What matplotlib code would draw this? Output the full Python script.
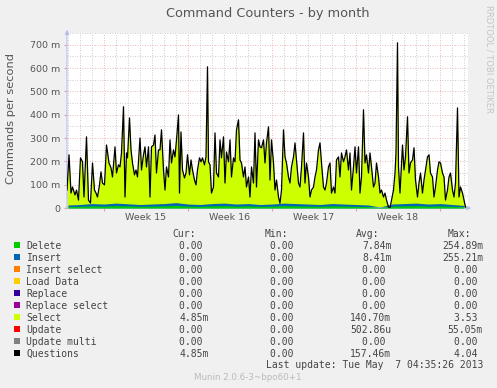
import matplotlib
matplotlib.use("Agg")
import matplotlib.pyplot as plt
from matplotlib.patches import Rectangle

W, H = 497, 388

# hours since Mon 8 Apr 2013 00:00 (start of week 15); values in milli-commands/s
q_hours = [-74, -70, -66, -63, -58, -55, -51, -47, -43, -40, -35, -31, -27, -23, -19, -16,
           -13, -9, -6, -3, 1, 5, 10, 14, 17, 22, 25, 29, 32, 35, 39, 42, 45, 47, 51, 54,
           57, 61, 64, 67, 72, 75, 79, 82, 85, 89, 92, 95, 99, 102, 105, 109, 112, 115,
           119, 122, 125, 129, 132, 135, 139, 142, 145, 149, 151, 154, 157, 161, 164, 167,
           171, 174, 177, 181, 184, 187, 191, 194, 197, 201, 204, 207, 209, 212, 215, 219,
           222, 225, 229, 232, 235, 239, 242, 245, 249, 252, 255, 259, 262, 265, 269, 272,
           275, 279, 282, 285, 289, 292, 295, 299, 302, 305, 309, 312, 315, 319, 322, 325,
           329, 332, 335, 339, 342, 345, 349, 352, 355, 359, 362, 365, 369, 372, 375, 379,
           382, 385, 389, 392, 395, 399, 402, 405, 409, 412, 415, 419, 422, 425, 429, 432,
           435, 439, 442, 445, 449, 452, 455, 459, 462, 465, 469, 472, 475, 479, 482, 485,
           489, 492, 495, 499, 502, 505, 509, 512, 515, 519, 522, 525, 529, 532, 535, 539,
           542, 545, 549, 552, 555, 559, 562, 565, 569, 572, 575, 579, 582, 584, 587, 589,
           592, 595, 597, 600, 603, 607, 610, 613, 617, 620, 623, 627, 630, 633, 637, 640,
           643, 647, 650, 653, 657, 660, 663, 667, 670, 673, 677, 680, 683, 687, 690, 693,
           697, 700, 703, 707, 710, 713, 717, 720, 723]
q_vals = [77, 228, 64, 90, 56, 77, 34, 215, 198, 47, 305, 34, 21, 193, 77, 64,
          47, 99, 155, 107, 99, 270, 193, 172, 133, 262, 150, 185, 176, 236, 434, 47, 236, 215, 386, 249,
          193, 142, 163, 133, 300, 163, 228, 262, 176, 262, 47, 262, 270, 313, 150, 249, 249, 335,
          163, 77, 176, 133, 292, 193, 249, 219, 292, 399, 64, 326, 163, 129, 150, 228,
          142, 206, 163, 120, 99, 163, 215, 198, 215, 185, 219, 605, 198, 185, 64, 90,
          322, 150, 133, 292, 215, 305, 107, 240, 198, 292, 133, 215, 198, 335, 378, 206,
          193, 133, 176, 90, 133, 47, 176, 107, 322, 90, 292, 262, 258, 292, 193, 279,
          348, 120, 292, 193, 77, 120, 47, 20, 77, 335, 219, 193, 133, 107, 176, 219,
          279, 206, 107, 90, 176, 322, 107, 193, 133, 47, 77, 90, 133, 163, 249, 279,
          193, 90, 77, 107, 176, 193, 64, 90, 64, 206, 219, 133, 236, 198, 219, 249,
          163, 236, 77, 176, 262, 150, 262, 64, 133, 421, 193, 228, 150, 236, 176, 90,
          107, 193, 133, 64, 77, 47, 64, 34, 4, 0, 34, 77, 150, 236, 708, 176,
          64, 193, 270, 163, 219, 391, 150, 193, 206, 258, 120, 47, 107, 150, 64, 120,
          163, 219, 228, 150, 133, 47, 90, 163, 198, 193, 150, 133, 34, 77, 133, 150,
          77, 47, 107, 429, 47, 90, 64, 34, 4]

# daily bottom bands (milli-commands/s)
day_hours = list(range(-72, 721, 24))
delete_vals = [6, 7, 9, 8, 10, 9, 7, 8, 9, 11, 8, 7, 9, 10, 8, 9, 7,
               8, 10, 9, 8, 7, 9, 8, 7, 6, 2, 8, 9, 10, 8, 9, 7, 5]
insert_vals = [7, 8, 10, 9, 11, 9, 8, 9, 10, 12, 9, 8, 10, 11, 9, 10, 8,
               9, 11, 10, 9, 8, 10, 9, 8, 7, 2, 9, 10, 11, 9, 10, 8, 6]

week_starts = [0, 168, 336, 504, 672]
week_labels = ["Week 15", "Week 16", "Week 17", "Week 18"]
y_ticks = [0, 100, 200, 300, 400, 500, 600, 700]

names = ["Delete", "Insert", "Insert select", "Load Data", "Replace",
         "Replace select", "Select", "Update", "Update multi", "Questions"]
colors = ["#00CC00", "#0066B3", "#FF8000", "#FFCC00", "#330099",
          "#990099", "#CCFF00", "#FF0000", "#808080", "#000000"]
cur = ["0.00", "0.00", "0.00", "0.00", "0.00", "0.00", "4.85m", "0.00", "0.00", "4.85m"]
mins = ["0.00", "0.00", "0.00", "0.00", "0.00", "0.00", "0.00", "0.00", "0.00", "0.00"]
avgs = ["7.84m", "8.41m", "0.00", "0.00", "0.00", "0.00", "140.70m", "502.86u", "0.00", "157.46m"]
maxs = ["254.89m", "255.21m", "0.00", "0.00", "0.00", "0.00", "3.53", "55.05m", "0.00", "4.04"]


def fx(x):
    return x / W


def fy(y):
    return 1 - y / H


fig = plt.figure(figsize=(W / 100, H / 100), dpi=100, facecolor="#F0F0F0")
ax = fig.add_axes([fx(67), fy(208), (468 - 67) / W, 175 / H])
ax.set_facecolor("white")

# data
ins_top = [d + i for d, i in zip(delete_vals, insert_vals)]
ax.fill_between(q_hours, 0, q_vals, color="#CCFF00", lw=0, zorder=2)
ax.fill_between(day_hours, 0, ins_top, color="#0066B3", lw=0, zorder=3)
ax.fill_between(day_hours, 0, delete_vals, color="#00CC00", lw=0, zorder=4)
ax.plot(q_hours, q_vals, color="black", lw=0.9, zorder=5)

ax.set_xlim(-74, 728)
ax.set_ylim(0, 750)

# grid
grid_minor = dict(color="#BBBBBB", lw=0.6, dashes=(1, 2), zorder=1)
grid_major = dict(color="#E8A0A0", lw=0.6, dashes=(1, 2), zorder=1)
for h in range(-72, 728, 24):
    if h not in week_starts:
        ax.axvline(h, **grid_minor)
for v in range(50, 751, 100):
    ax.axhline(v, **grid_minor)
for h in week_starts:
    ax.axvline(h, **grid_major)
for v in y_ticks[1:]:
    ax.axhline(v, **grid_major)

for s in ax.spines.values():
    s.set_visible(False)

ax.set_xticks(week_starts)
ax.set_xticklabels([])
ax.tick_params(axis="x", length=2, color="#E8A0A0", direction="out")
ax.set_yticks(y_ticks)
ax.set_yticklabels([f"{v} m" if v else "0" for v in y_ticks])
ax.tick_params(axis="y", length=2, color="#E8A0A0", direction="out", pad=3,
               labelsize=6.8, labelcolor="#555555")

for i, lab in enumerate(week_labels):
    mid = (week_starts[i] + week_starts[i + 1]) / 2
    ax.text(mid, -12 / 175, lab, transform=ax.get_xaxis_transform(),
            ha="center", va="baseline", fontsize=6.8, color="#555555")

axis_col = "#B4BCF0"
ax.annotate("", xy=(0, 181 / 175), xytext=(0, -3 / 175), xycoords="axes fraction",
            arrowprops=dict(arrowstyle="-|>", color=axis_col, lw=0.8, mutation_scale=6),
            annotation_clip=False)
ax.annotate("", xy=(407 / 401, 0), xytext=(-4 / 401, 0), xycoords="axes fraction",
            arrowprops=dict(arrowstyle="-|>", color=axis_col, lw=0.8, mutation_scale=6),
            annotation_clip=False)

fig.text(fx(267.5), fy(17), "Command Counters - by month", ha="center", va="baseline",
         fontsize=9.3, color="#555555")
fig.text(fx(11), fy(119), "Commands per second", rotation=90, ha="center", va="center",
         fontsize=8.2, color="#555555")
fig.text(fx(488.5), fy(5), "RRDTOOL / TOBI OETIKER", rotation=270, ha="center", va="top",
         fontsize=6.0, color="#C4C4C4")

# legend table
mono = dict(family="DejaVu Sans Mono", fontsize=7, color="#444444", va="baseline")


def cell(s):
    return s if s[-1].isalpha() else s + " "


base = 236.7
for hx, lab in zip([196, 288, 379, 471], ["Cur:", "Min:", "Avg:", "Max:"]):
    fig.text(fx(hx), fy(base), lab, ha="right", **mono)
for i, name in enumerate(names):
    y = base + 12 * (i + 1)
    fig.add_artist(Rectangle((fx(14), fy(y - 0.5)), 6 / W, 6 / H,
                             transform=fig.transFigure, color=colors[i], lw=0))
    fig.text(fx(26.5), fy(y), name, ha="left", **mono)
    for vx, col in zip([208.4, 299.8, 391.4, 483], [cur, mins, avgs, maxs]):
        fig.text(fx(vx), fy(y), cell(col[i]), ha="right", **mono)

fig.text(fx(483.3), fy(368.3), "Last update: Tue May  7 04:35:26 2013", ha="right", **mono)
fig.text(fx(248), fy(380), "Munin 2.0.6-3~bpo60+1", ha="center", va="baseline",
         fontsize=6.3, color="#BBBBBB")

fig.savefig("out.png", dpi=100, facecolor=fig.get_facecolor())
